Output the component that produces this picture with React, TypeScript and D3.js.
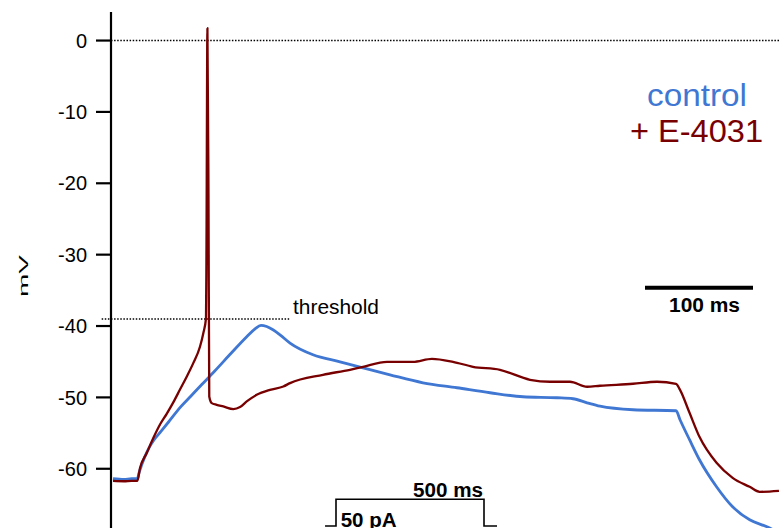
import React from 'react';
import * as d3 from 'd3';

const W = 779;
const H = 528;

// Membrane potential axis ticks (mV)
const yTicks = [0, -10, -20, -30, -40, -50, -60];
const thresholdMv = -39;

// Whole-cell recordings during a 500 ms, 50 pA current step: [time (ms from step onset), mV]
const controlTrace: [number, number][] = [
  [-22.2, -61.4], [-12, -61.5], [-5, -61.4], [0.3, -61.4],
  [2, -60.5], [4, -59.6], [7, -58.4], [11, -57.1], [16, -55.9],
  [22, -54.8], [30, -53.3], [40, -51.4], [50, -49.8], [60, -48.2],
  [72, -46.3], [86, -44.0], [101.6, -41.5], [109.3, -40.39],
  [114.8, -39.9], [120.1, -40.07], [125.9, -40.53], [132.4, -41.23],
  [141.7, -42.39], [163.0, -44.03], [188.0, -45.01], [209.3, -45.85],
  [234.3, -46.83], [264.8, -47.95], [296.3, -48.65], [326.9, -49.35],
  [357.4, -49.91], [388.9, -50.05], [403.7, -50.19], [416.7, -50.76],
  [428.7, -51.24], [459.3, -51.73], [499.1, -51.87], [502.8, -53.13],
  [511.6, -55.93], [520.8, -58.74], [536.6, -62.52], [551.5, -65.33],
  [567.3, -67.15], [583.3, -68.13], [594.4, -68.97],
];

const e4031Trace: [number, number][] = [
  [-22.2, -61.7], [-12, -61.75], [-5, -61.7], [0.3, -61.7],
  [2.8, -59.9], [9.0, -57.8], [15.1, -55.7], [21.3, -53.8],
  [27.5, -52.3], [33.6, -50.7], [39.8, -48.9], [46.0, -47.1],
  [52.1, -45.2], [58.3, -42.9], [61.4, -41.0], [63.9, -38.89],
  [64.3, -30], [65.2, 1.74], [66.2, -22.3], [66.9, -49.87],
  [69.2, -50.8], [73.8, -51.04], [79.9, -51.27], [89.2, -51.64],
  [95.4, -51.36], [101.6, -50.57], [110.8, -49.64], [123.1, -48.94],
  [135.5, -48.47], [141.7, -48.0], [172.2, -46.83], [197.2, -46.13],
  [209.3, -45.71], [231.5, -45.01], [255.6, -45.01], [273.1, -44.59],
  [292.6, -45.01], [311.1, -45.71], [336.1, -46.13], [363.9, -47.53],
  [382.4, -47.81], [400.9, -47.81], [416.7, -48.51], [428.7, -48.37],
  [459.3, -48.09], [481.5, -47.81], [499.1, -48.09], [502.8, -48.94],
  [511.6, -52.16], [520.8, -55.53], [536.6, -59.17], [551.5, -61.27],
  [567.3, -62.53], [576.5, -63.23], [594.4, -63.09],
];

// Current-step protocol schematic: [time (ms), current (pA)]
const stimulusSteps: [number, number][] = [
  [-37, 0], [0, 0], [0, 50], [500, 50], [500, 0], [544, 0],
];

const legendLabels = ['control', '+ E-4031'];
const scaleBarMs = 100;

const BLUE = '#3f77d3';
const RED = '#780000';
const FONT = '"Liberation Sans", Arial, Helvetica, sans-serif';

export default function App() {
  const x = d3.scaleLinear().domain([0, 500]).range([137, 677]);
  const y = d3.scaleLinear().domain([-68.3, 4]).range([528, 12]);

  const trace = d3
    .line<[number, number]>()
    .x((d) => x(d[0]))
    .y((d) => y(d[1]))
    .curve(d3.curveMonotoneX);

  // schematic of the injected current, drawn at its own small scale
  const sx = d3.scaleLinear().domain([0, 500]).range([336, 484]);
  const sy = d3.scaleLinear().domain([0, 50]).range([526, 499.3]);
  const stimLine = d3
    .line<[number, number]>()
    .x((d) => sx(d[0]))
    .y((d) => sy(d[1]));

  const axisX = 111;
  const barLeft = 645;
  const barRight = barLeft + (x(scaleBarMs) - x(0));

  return (
    <svg
      width={W}
      height={H}
      style={{ position: 'absolute', left: 0, top: 0, background: '#ffffff' }}
      fontFamily={FONT}
    >
      <rect x={0} y={0} width={W} height={H} fill="#ffffff" />

      {/* 0 mV reference */}
      <line
        x1={axisX}
        x2={W}
        y1={y(0)}
        y2={y(0)}
        stroke="#000"
        strokeWidth={1.5}
        strokeDasharray="1.5,1.6"
      />
      {/* spike threshold */}
      <line
        x1={x(-32.7)}
        x2={x(141.7)}
        y1={y(thresholdMv)}
        y2={y(thresholdMv)}
        stroke="#000"
        strokeWidth={1.5}
        strokeDasharray="1.5,1.6"
      />
      <text x={293} y={314} fontSize={20} textLength={86} lengthAdjust="spacingAndGlyphs" fill="#000">
        threshold
      </text>

      {/* y axis */}
      <line x1={axisX} x2={axisX} y1={12} y2={H} stroke="#000" strokeWidth={2.2} />
      {yTicks.map((t) => (
        <g key={t}>
          <line x1={96} x2={axisX} y1={y(t)} y2={y(t)} stroke="#000" strokeWidth={2.2} />
          <text x={87} y={y(t)} dy="0.36em" textAnchor="end" fontSize={20} fill="#000">
            {t}
          </text>
        </g>
      ))}
      <text
        transform="translate(28,276) rotate(-90)"
        textAnchor="middle"
        fontSize={13}
        textLength={42}
        lengthAdjust="spacingAndGlyphs"
        fill="#000"
      >
        mV
      </text>

      {/* traces */}
      <path d={trace(controlTrace) ?? ''} fill="none" stroke={BLUE} strokeWidth={2.8} strokeLinejoin="round" />
      <path d={trace(e4031Trace) ?? ''} fill="none" stroke={RED} strokeWidth={2.3} strokeLinejoin="round" />

      {/* legend */}
      <text x={697} y={105.7} textAnchor="middle" fontSize={31} textLength={100} lengthAdjust="spacingAndGlyphs" fill={BLUE}>
        {legendLabels[0]}
      </text>
      <text x={696.5} y={142.3} textAnchor="middle" fontSize={31} textLength={133} lengthAdjust="spacingAndGlyphs" fill={RED}>
        {legendLabels[1]}
      </text>

      {/* time scale bar */}
      <line x1={barLeft} x2={barRight} y1={287.7} y2={287.7} stroke="#000" strokeWidth={4} />
      <text x={704.5} y={311.7} textAnchor="middle" fontSize={20} fontWeight="bold" textLength={71} lengthAdjust="spacingAndGlyphs" fill="#000">
        {scaleBarMs} ms
      </text>

      {/* stimulus protocol */}
      <path d={stimLine(stimulusSteps) ?? ''} fill="none" stroke="#000" strokeWidth={1.6} />
      <text x={483} y={496.7} textAnchor="end" fontSize={20} fontWeight="bold" textLength={70} lengthAdjust="spacingAndGlyphs" fill="#000">
        500 ms
      </text>
      <text x={340.7} y={527} fontSize={20} fontWeight="bold" textLength={56} lengthAdjust="spacingAndGlyphs" fill="#000">
        50 pA
      </text>
    </svg>
  );
}
